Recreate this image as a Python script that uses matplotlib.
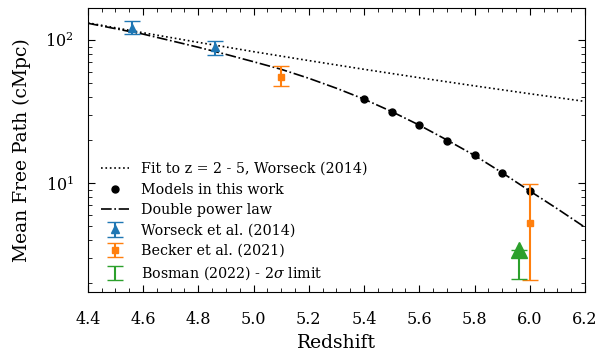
import numpy as np
import matplotlib
matplotlib.use("Agg")
import matplotlib.pyplot as plt
from matplotlib.ticker import AutoMinorLocator

plt.rcParams['font.family'] = 'DejaVu Serif'
plt.rcParams['mathtext.fontset'] = 'dejavuserif'

# -------------------------
# Data
# -------------------------
# Worseck (2014) fit to z = 2 - 5
fit_z = [4.4, 4.6, 4.8, 5.0, 5.2, 5.4, 5.6, 5.8, 6.0, 6.2]
fit_mfp = [131.9, 112.4, 96.3, 82.9, 71.8, 62.4, 54.5, 47.8, 42.1, 37.2]

# models in this work
model_z = [5.4, 5.5, 5.6, 5.7, 5.8, 5.9, 6.0]
model_mfp = [38.5, 31.4, 25.5, 19.8, 15.6, 11.7, 8.8]

# double power law
dpl_z = [4.4, 4.5, 4.6, 4.7, 4.8, 4.9, 5.0, 5.1, 5.2, 5.3,
         5.4, 5.5, 5.6, 5.7, 5.8, 5.9, 6.0, 6.1, 6.2]
dpl_mfp = [131, 120, 110, 99, 89, 79.4, 70.5, 62.4, 54, 46,
           38.6, 31.6, 25.4, 20, 15.6, 11.8, 8.8, 6.6, 4.9]

# Worseck et al. (2014)
w_z = [4.56, 4.86]
w_mfp = [122, 90]
w_lo = [12, 11]
w_hi = [13, 8]

# Becker et al. (2021)
b_z = [5.1, 6.0]
b_mfp = [55.4, 5.25]
b_lo = [7.8, 3.15]
b_hi = [9.9, 4.55]

# Bosman (2022) 2 sigma limit
bos_z = [5.96]
bos_mfp = [3.4]
bos_lo = [1.27]

# -------------------------
# Plot
# -------------------------
fig = plt.figure(figsize=(5.97, 3.54), dpi=100)
ax = fig.add_axes([0.147, 0.175, 0.833, 0.802])

ax.plot(fit_z, fit_mfp, ':', color='black', lw=1.2, label="Fit to z = 2 - 5, Worseck (2014)")
ax.plot(model_z, model_mfp, 'o', color='black', ms=5, label="Models in this work")
ax.plot(dpl_z, dpl_mfp, '-.', color='black', lw=1.2, label="Double power law")

ax.errorbar(w_z, w_mfp, yerr=[w_lo, w_hi], fmt='^', color='tab:blue', ms=6,
            capsize=6, label="Worseck et al. (2014)")
ax.errorbar(b_z, b_mfp, yerr=[b_lo, b_hi], fmt='s', color='tab:orange', ms=5,
            capsize=6, label="Becker et al. (2021)")
ax.errorbar(bos_z, bos_mfp, yerr=[bos_lo, [0]], fmt='none', ecolor='tab:green',
            capsize=6, label=r"Bosman (2022) - 2$\sigma$ limit")
ax.plot(bos_z, bos_mfp, '^', color='tab:green', ms=11)

ax.set_yscale('log')
ax.set_xlim(4.4, 6.2)
ax.set_ylim(1.73, 167)
ax.xaxis.set_minor_locator(AutoMinorLocator(4))
ax.tick_params(which='both', direction='in', top=True, right=True, labelsize=11.5)
ax.tick_params(which='major', length=5)
ax.tick_params(which='minor', length=3)
ax.tick_params(axis='x', which='both', pad=14)
ax.tick_params(axis='y', which='both', pad=10)

ax.set_xlabel("Redshift", fontsize=13.5)
ax.set_ylabel("Mean Free Path (cMpc)", fontsize=13.5, labelpad=10)
ax.legend(loc='lower left', frameon=False, fontsize=10.3, labelspacing=0.45,
          bbox_to_anchor=(0.0, -0.01))

fig.savefig("out.png", dpi=100)
plt.close()
